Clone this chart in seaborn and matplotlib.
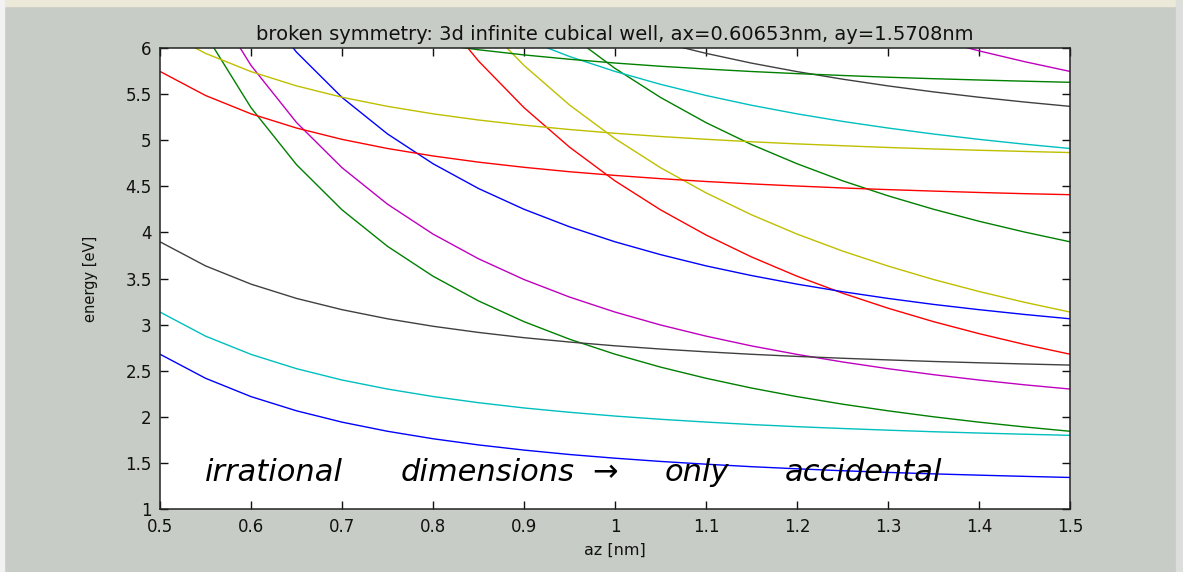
import matplotlib
matplotlib.use('Agg')
import matplotlib.pyplot as plt
from matplotlib.patches import Rectangle
import pandas as pd
import seaborn as sns

# well widths along z [nm]
az = [0.50, 0.55, 0.60, 0.65, 0.70, 0.75, 0.80, 0.85, 0.90, 0.95, 1.00,
      1.05, 1.10, 1.15, 1.20, 1.25, 1.30, 1.35, 1.40, 1.45, 1.50]

# energy levels [eV], labelled nx ny nz
e111 = [2.679, 2.418, 2.219, 2.065, 1.942, 1.843, 1.762, 1.695, 1.639, 1.591, 1.551,
        1.516, 1.486, 1.459, 1.436, 1.415, 1.397, 1.381, 1.367, 1.354, 1.342]
e112 = [7.192, 6.148, 5.353, 4.735, 4.245, 3.849, 3.525, 3.257, 3.032, 2.842, 2.679,
        2.539, 2.418, 2.312, 2.219, 2.137, 2.065, 2.000, 1.942, 1.890, 1.843]
e113 = [14.714, 12.364, 10.577, 9.186, 8.082, 7.192, 6.463, 5.859, 5.353, 4.925, 4.559,
        4.245, 3.972, 3.734, 3.525, 3.341, 3.178, 3.032, 2.902, 2.785, 2.679]
e121 = [3.136, 2.875, 2.677, 2.522, 2.399, 2.301, 2.220, 2.153, 2.096, 2.049, 2.008,
        1.973, 1.943, 1.916, 1.893, 1.873, 1.855, 1.838, 1.824, 1.811, 1.799]
e122 = [7.649, 6.605, 5.811, 5.192, 4.702, 4.306, 3.982, 3.714, 3.489, 3.299, 3.136,
        2.996, 2.875, 2.769, 2.677, 2.595, 2.522, 2.457, 2.399, 2.347, 2.301]
e123 = [15.171, 12.821, 11.034, 9.643, 8.540, 7.649, 6.921, 6.317, 5.811, 5.382, 5.017,
        4.702, 4.429, 4.191, 3.982, 3.798, 3.635, 3.489, 3.359, 3.242, 3.136]
e131 = [3.898, 3.637, 3.439, 3.284, 3.162, 3.063, 2.982, 2.915, 2.858, 2.811, 2.770,
        2.735, 2.705, 2.678, 2.655, 2.635, 2.617, 2.600, 2.586, 2.573, 2.561]
e132 = [8.411, 7.367, 6.573, 5.955, 5.464, 5.068, 4.745, 4.476, 4.251, 4.061, 3.898,
        3.759, 3.637, 3.532, 3.439, 3.357, 3.284, 3.219, 3.162, 3.110, 3.063]
e133 = [15.933, 13.583, 11.796, 10.405, 9.302, 8.411, 7.683, 7.079, 6.573, 6.144, 5.779,
        5.464, 5.191, 4.953, 4.745, 4.560, 4.397, 4.251, 4.121, 4.004, 3.898]
e211 = [5.746, 5.485, 5.286, 5.132, 5.009, 4.910, 4.829, 4.762, 4.706, 4.658, 4.618,
        4.583, 4.552, 4.526, 4.503, 4.482, 4.464, 4.448, 4.433, 4.420, 4.409]
e212 = [10.259, 9.215, 8.420, 7.802, 7.312, 6.916, 6.592, 6.324, 6.099, 5.908, 5.746,
        5.606, 5.485, 5.379, 5.286, 5.204, 5.132, 5.067, 5.009, 4.957, 4.910]
e213 = [17.781, 15.431, 13.644, 12.253, 11.149, 10.259, 9.530, 8.926, 8.420, 7.992, 7.626,
        7.312, 7.039, 6.801, 6.592, 6.408, 6.244, 6.099, 5.969, 5.852, 5.746]
e221 = [6.203, 5.942, 5.744, 5.589, 5.466, 5.367, 5.286, 5.219, 5.163, 5.116, 5.075,
        5.040, 5.010, 4.983, 4.960, 4.940, 4.921, 4.905, 4.891, 4.878, 4.866]
e222 = [10.716, 9.672, 8.878, 8.259, 7.769, 7.373, 7.049, 6.781, 6.556, 6.366, 6.203,
        6.063, 5.942, 5.836, 5.744, 5.662, 5.589, 5.524, 5.466, 5.414, 5.367]
e231 = [6.965, 6.704, 6.506, 6.351, 6.228, 6.130, 6.049, 5.981, 5.925, 5.878, 5.837,
        5.802, 5.772, 5.745, 5.722, 5.702, 5.683, 5.667, 5.653, 5.640, 5.628]

states = ['111', '112', '113', '121', '122', '123', '131', '132', '133',
          '211', '212', '213', '221', '222', '231']
levels = [e111, e112, e113, e121, e122, e123, e131, e132, e133,
          e211, e212, e213, e221, e222, e231]

# matlab default colour order
B, G, R, C, M, Y, K = '#0000ff', '#008000', '#ff0000', '#00bfbf', '#bf00bf', '#bfbf00', '#404040'
line_colors = [B, G, R, C, M, Y, K, B, G, R, C, M, Y, K, G]

xticks = [0.5, 0.6, 0.7, 0.8, 0.9, 1.0, 1.1, 1.2, 1.3, 1.4, 1.5]
xtick_labels = ['0.5', '0.6', '0.7', '0.8', '0.9', '1', '1.1', '1.2', '1.3', '1.4', '1.5']
yticks = [1, 1.5, 2, 2.5, 3, 3.5, 4, 4.5, 5, 5.5, 6]
ytick_labels = ['1', '1.5', '2', '2.5', '3', '3.5', '4', '4.5', '5', '5.5', '6']

# handwritten note, word by word (x in nm)
note_words = ['irrational', 'dimensions', '\u2192', 'only', 'accidental']
note_x = [0.549, 0.764, 0.975, 1.055, 1.187]

rows = []
for s, e in zip(states, levels):
    for x, y in zip(az, e):
        rows.append({'az': x, 'E': y, 'state': s})
df = pd.DataFrame(rows)

sns.set_style('ticks')
plt.rcParams['font.family'] = ['DejaVu Sans']

bg = '#c8ccc6'
fig = plt.figure(figsize=(11.83, 5.72), dpi=100, facecolor=bg)

# bits of the window frame
fig.add_artist(Rectangle((0, 1 - 6 / 572), 1, 6 / 572, transform=fig.transFigure,
                         color='#ece9d8', zorder=0))
fig.add_artist(Rectangle((0, 0), 4 / 1183, 1, transform=fig.transFigure,
                         color='#f2f2f2', zorder=0))
fig.add_artist(Rectangle((1 - 7 / 1183, 0), 7 / 1183, 1, transform=fig.transFigure,
                         color='#dcdedb', zorder=0))

ax = fig.add_axes([160 / 1183, 1 - 509 / 572, 910 / 1183, 461 / 572])
ax.set_facecolor('white')

sns.lineplot(data=df, x='az', y='E', hue='state', hue_order=states,
             palette=line_colors, estimator=None, sort=False, legend=False,
             linewidth=1.0, ax=ax)

ax.set_xlim(0.5, 1.5)
ax.set_ylim(1, 6)
ax.set_xticks(xticks)
ax.set_xticklabels(xtick_labels)
ax.set_yticks(yticks)
ax.set_yticklabels(ytick_labels)
ax.tick_params(direction='in', top=True, right=True, length=6, width=1,
               labelsize=12, colors='#111111')
ax.tick_params(axis='x', pad=6.5)
ax.tick_params(axis='y', pad=6)
for sp in ax.spines.values():
    sp.set_visible(True)
    sp.set_linewidth(1.1)
    sp.set_color('#222222')

ax.set_title('broken symmetry: 3d infinite cubical well, ax=0.60653nm, ay=1.5708nm',
             fontsize=14, pad=6, color='#111111')
ax.set_xlabel('az [nm]', fontsize=11.5, labelpad=5, color='#111111')
ax.set_ylabel('energy [eV]', fontsize=10.5, labelpad=20, color='#111111')

for w, x in zip(note_words, note_x):
    ax.text(x, 1.40, w, fontsize=22, color='black', ha='left', va='center',
            fontstyle='italic')

fig.savefig('out.png', dpi=100, facecolor=bg)
